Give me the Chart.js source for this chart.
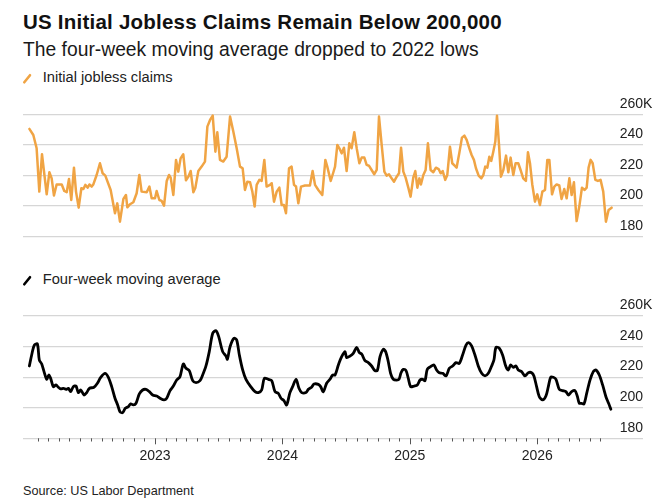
<!DOCTYPE html>
<html>
<head>
<meta charset="utf-8">
<script src="https://cdn.jsdelivr.net/npm/chart.js@4.4.1/dist/chart.umd.min.js"></script>
<style>
  html, body { margin:0; padding:0; background:#fff; }
  body { width:662px; height:503px; position:relative; overflow:hidden; font-family:'Liberation Sans', Arial, sans-serif; }
  .t { position:absolute; white-space:nowrap; line-height:1; }
  canvas { position:absolute; left:0; top:0; }
</style>
</head>
<body>
<div class="t" style="left:23px;top:11.65px;font-size:20.5px;letter-spacing:0.23px;font-weight:bold;color:#111;">US Initial Jobless Claims Remain Below 200,000</div>
<div class="t" style="left:23px;top:40.4px;font-size:19.3px;color:#1a1a1a;">The four-week moving average dropped to 2022 lows</div>
<div class="t" style="left:42.7px;top:69.9px;font-size:14.7px;color:#222;">Initial jobless claims</div>
<div class="t" style="left:42.7px;top:271.9px;font-size:14.7px;color:#222;">Four-week moving average</div>
<div class="t" style="left:23px;top:484.8px;font-size:12.7px;color:#222;">Source: US Labor Department</div>
<svg width="662" height="503" style="position:absolute;left:0;top:0;">
  <line x1="24.3" y1="82.3" x2="30" y2="75.2" stroke="#F0A444" stroke-width="2.6" stroke-linecap="round"/>
  <line x1="24.3" y1="284.3" x2="30" y2="277.2" stroke="#000" stroke-width="2.6" stroke-linecap="round"/>
</svg>
<canvas id="c1" width="662" height="503"></canvas>
<canvas id="c2" width="662" height="503"></canvas>
<script>
// ---- data (x = decimal year, y = thousands) ----
const claimsX = [2022.014,2022.045,2022.071,2022.092,2022.113,2022.150,2022.171,2022.189,2022.207,2022.228,2022.268,2022.288,2022.307,2022.325,2022.343,2022.364,2022.380,2022.401,2022.422,2022.438,2022.453,2022.472,2022.485,2022.503,2022.516,2022.542,2022.568,2022.589,2022.610,2022.652,2022.686,2022.704,2022.725,2022.752,2022.772,2022.783,2022.804,2022.830,2022.856,2022.877,2022.895,2022.935,2022.956,2022.974,2023.000,2023.013,2023.034,2023.052,2023.071,2023.092,2023.110,2023.123,2023.144,2023.165,2023.183,2023.201,2023.222,2023.243,2023.262,2023.280,2023.301,2023.317,2023.340,2023.366,2023.392,2023.411,2023.432,2023.453,2023.474,2023.489,
2023.510,2023.536,2023.562,2023.589,2023.615,2023.641,2023.667,2023.688,2023.706,2023.725,2023.746,2023.764,2023.782,2023.798,2023.819,2023.837,2023.858,2023.876,2023.902,2023.916,2023.934,2023.955,2023.976,2023.994,2024.012,2024.028,2024.052,2024.072,2024.091,2024.107,2024.125,2024.146,2024.177,2024.216,2024.237,2024.256,2024.282,2024.313,2024.337,2024.352,2024.379,2024.400,2024.413,2024.431,2024.447,2024.465,2024.483,2024.504,2024.525,2024.543,2024.564,2024.583,2024.604,2024.622,2024.643,2024.661,2024.679,2024.700,2024.721,2024.740,2024.758,2024.779,2024.800,2024.818,2024.836,2024.857,2024.876,2024.897,2024.915,2024.931,2024.949,2024.967,2024.988,2025.006,2025.027,2025.043,2025.059,2025.075,
2025.087,2025.106,2025.124,2025.142,2025.163,2025.184,2025.205,2025.226,2025.242,2025.258,2025.278,2025.294,2025.315,2025.333,2025.352,2025.367,2025.388,2025.409,2025.428,2025.446,2025.467,2025.485,2025.503,2025.519,2025.540,2025.561,2025.577,2025.592,2025.608,2025.624,2025.639,2025.655,2025.671,2025.684,2025.700,2025.715,2025.734,2025.755,2025.773,2025.791,2025.812,2025.830,2025.851,2025.872,2025.890,2025.911,2025.927,2025.943,2025.961,2025.982,2026.000,2026.021,2026.040,2026.061,2026.079,2026.095,2026.116,2026.134,2026.152,2026.173,2026.191,2026.212,2026.231,2026.252,2026.270,2026.288,2026.309,2026.330,2026.351,2026.372,2026.388,2026.403,2026.419,2026.435,2026.456,2026.476,2026.497,2026.518,2026.539,2026.560,2026.584];
const claimsY = [250.4,246.4,237.7,209.3,233.8,207.5,222,218,206.7,214,214,209.7,208.9,217.6,203.8,225,209.3,198.8,211.5,211,213.7,211.9,214,212.6,214,220.2,227.9,221.3,219.8,210.4,195.1,201.6,189.6,204.5,207.1,199,201,202.3,208.2,220.2,209.3,208.9,212.6,204.9,204.9,209.7,203.8,203.2,200.1,216.3,220.2,218.5,207.1,230.1,222.4,231.1,233.8,216.7,219.1,222.8,208.9,211.9,222.8,225.7,229,251.9,256.3,259.1,235.5,248.2,
230.1,229,232.2,258.5,248.6,237.7,225.7,224.6,210.4,215.8,215.4,209.3,199.5,213.7,217,216.3,230.1,212.6,213.7,214.8,202.7,209.3,211.9,200.5,200.5,195.1,224.6,225.7,213.7,212.6,201.6,212.6,213.3,213.3,222.8,213.7,210.4,207.1,230.1,225.7,216.3,222,225.7,239.9,237.7,234.4,238.1,222.8,241,237.7,248.2,237.7,227.9,231.6,231.6,226.8,226.3,223.5,220.7,223.5,258.5,239.9,222.4,219.8,220.7,218,215.8,219.1,221.3,238.1,222.4,218.5,211.9,206,218.5,222.8,211.9,218,
214,220.2,223.5,241,223.5,222,225,224.1,221.3,222.8,217,220.2,238.8,227.9,226.3,225,234.4,244.7,246,243.2,237.7,233.3,230.1,224.6,219.8,218,220.2,225.7,225,232.2,229.4,235.5,242.1,259.1,239.9,219.1,223.5,232.9,222,231.6,220.2,227.9,227.9,222.8,218,216.3,235.1,227.9,214,202.7,207.5,200.5,209.3,210.4,230.1,230.1,207.5,212.6,214,213.3,204.5,211,204.9,218,207.1,215.4,190,199.5,211.9,210.4,211.9,225,230.1,227.9,217,216.3,217,209.3,189.6,197.3,198.8];

const avgX = [2022.014,2022.032,2022.053,2022.077,2022.092,2022.111,2022.129,2022.150,2022.166,2022.181,2022.202,2022.223,2022.241,2022.260,2022.281,2022.302,2022.320,2022.338,2022.359,2022.380,2022.398,2022.417,2022.443,2022.464,2022.485,2022.521,2022.548,2022.574,2022.608,2022.634,2022.660,2022.686,2022.707,2022.725,2022.746,2022.767,2022.791,2022.809,2022.830,2022.851,2022.877,2022.903,2022.929,2022.956,2022.982,2023.013,2023.039,2023.071,2023.092,2023.118,2023.144,2023.170,2023.196,2023.222,2023.243,2023.269,2023.296,2023.322,2023.353,2023.374,2023.400,2023.426,2023.453,2023.479,2023.500,
2023.531,2023.557,2023.568,2023.589,2023.620,2023.641,2023.662,2023.688,2023.714,2023.751,2023.785,2023.811,2023.837,2023.858,2023.889,2023.916,2023.942,2023.968,2023.989,2024.012,2024.033,2024.059,2024.080,2024.107,2024.130,2024.151,2024.185,2024.203,2024.229,2024.248,2024.282,2024.300,2024.321,2024.347,2024.373,2024.394,2024.413,2024.439,2024.465,2024.491,2024.504,2024.530,2024.556,2024.583,2024.604,2024.622,2024.648,2024.674,2024.700,2024.726,2024.745,2024.766,2024.792,2024.810,2024.831,2024.849,2024.870,2024.897,2024.915,2024.931,2024.949,2024.970,2024.988,2025.006,2025.033,2025.059,
2025.080,2025.101,2025.119,2025.137,2025.163,2025.189,2025.210,2025.231,2025.258,2025.284,2025.310,2025.336,2025.362,2025.388,2025.414,2025.441,2025.462,2025.485,2025.511,2025.537,2025.564,2025.590,2025.616,2025.642,2025.660,2025.676,2025.702,2025.728,2025.754,2025.773,2025.791,2025.812,2025.833,2025.851,2025.877,2025.904,2025.930,2025.956,2025.974,2025.995,2026.016,2026.042,2026.068,2026.087,2026.105,2026.126,2026.147,2026.173,2026.199,2026.225,2026.244,2026.270,2026.296,2026.314,2026.330,2026.348,2026.367,2026.388,2026.414,2026.440,2026.461,2026.487,2026.513,2026.539,2026.560,2026.578];
const avgY = [227.3,234.5,241,241.7,231.2,228.6,223.6,218.6,221.4,219.2,213.8,214.9,213.4,212.3,212.7,212,212.7,210.5,213.8,214.2,209.9,211.6,208.3,209.9,212.7,213.4,216,219.9,222.5,219.9,213.8,206.2,201.8,197.4,196.8,199.6,200.7,202.5,201.8,202.9,209,211.6,212,210.5,208.3,207.7,206.2,205.1,206.2,211.2,214.2,218.1,220.3,228.6,225.8,224.3,217.7,216.4,217.7,221.4,227.3,236.7,248.7,250.4,246.5,
236.7,233.8,231.7,239.9,245.4,244.3,234.5,224.7,218.6,213.8,210.5,209.9,211.6,219.2,218.6,217.7,210.5,209.4,206.2,204.6,201.8,209.9,213.8,218.6,212.7,209.9,209.9,212,213.4,215.5,215.3,213.8,210.5,216,218.6,221.4,221.4,228,233.4,236.7,232.8,233.8,235.6,239.5,236,235.1,230.8,229.5,227.3,224.3,224.3,233.4,238.2,236.7,230.1,222.5,218.6,218.1,218.6,222.9,225.1,224.3,219.2,213.8,214.2,214.9,
218.1,218.6,217.7,225.1,226.9,228,224.7,222.9,222.5,220.8,225.8,227.3,229.5,229,234.5,241,242.6,240.4,234.5,227.3,222.5,220.8,222.5,227.3,231.2,239.5,238.9,234.5,226.9,224.7,228,226.4,227.3,224.7,223.6,220.8,222.9,222.9,220.8,213.8,207.2,205.1,207.7,213.8,219.9,219.9,218.6,212,211.2,210.5,208.3,210.5,211.2,207.7,202.9,202.9,202.5,209.4,218.1,223.6,224.7,221.4,214.9,207.2,202.9,199];

const yTicks = [180, 200, 220, 240, 260];
const yTickLabels = ['180', '200', '220', '240', '260'];
const yTopSuffix = 'K';
const yearTicks = [2023, 2024, 2025, 2026];
const yearLabels = ['2023', '2024', '2025', '2026'];
const firstMonthTick = [2022, 1];   // Feb 2022
const lastMonthTick = [2026, 6];    // Jul 2026

const X_MIN = 2021.964, X_MAX = 2026.830;
const FONT = "'Liberation Sans', Arial, sans-serif";

function decYear(y, m) {
  const a = Date.UTC(y, 0, 1), b = Date.UTC(y + 1, 0, 1);
  return y + (Date.UTC(y, m, 1) - a) / (b - a);
}

const yLabelPlugin = {
  id: 'ylabels',
  afterDraw(chart) {
    const ctx = chart.ctx, ys = chart.scales.y, right = chart.chartArea.right;
    ctx.save();
    ctx.font = '14px ' + FONT;
    ctx.fillStyle = '#222';
    ctx.textBaseline = 'alphabetic';
    yTicks.forEach((v, i) => {
      const py = ys.getPixelForValue(v) - 6.7;
      ctx.textAlign = 'right';
      ctx.fillText(yTickLabels[i], right, py);
      if (i === yTicks.length - 1) {
        ctx.textAlign = 'left';
        ctx.fillText(yTopSuffix, right, py);
      }
    });
    ctx.restore();
  }
};

const xAxisPlugin = {
  id: 'xaxis',
  afterDraw(chart) {
    const ctx = chart.ctx, xs = chart.scales.x, base = chart.scales.y.getPixelForValue(180);
    ctx.save();
    ctx.strokeStyle = '#555';
    ctx.lineWidth = 1;
    let y = firstMonthTick[0], m = firstMonthTick[1];
    while (y < lastMonthTick[0] || (y === lastMonthTick[0] && m <= lastMonthTick[1])) {
      const px = Math.round(xs.getPixelForValue(decYear(y, m))) + 0.5;
      const len = m === 0 ? 6 : 3.2;
      ctx.beginPath();
      ctx.moveTo(px, base);
      ctx.lineTo(px, base + len);
      ctx.stroke();
      m++; if (m > 11) { m = 0; y++; }
    }
    ctx.font = '14px ' + FONT;
    ctx.fillStyle = '#222';
    ctx.textAlign = 'center';
    ctx.textBaseline = 'alphabetic';
    yearTicks.forEach((yr, i) => {
      ctx.fillText(yearLabels[i], xs.getPixelForValue(yr), base + 21.4);
    });
    ctx.restore();
  }
};

function makeChart(id, xs, ys, color, width, tension, padTop, padBottom, extraPlugins) {
  const pts = xs.map((x, i) => ({ x: x, y: ys[i] }));
  return new Chart(document.getElementById(id), {
    type: 'line',
    data: { datasets: [{ data: pts, borderColor: color, borderWidth: width, pointRadius: 0, tension: tension, fill: false, clip: false, borderJoinStyle: 'round', borderCapStyle: 'round' }] },
    options: {
      responsive: false,
      animation: false,
      layout: { padding: { left: 23, right: 19, top: padTop, bottom: padBottom } },
      plugins: { legend: { display: false }, tooltip: { enabled: false } },
      scales: {
        x: { type: 'linear', min: X_MIN, max: X_MAX, display: false },
        y: {
          type: 'linear', min: 180, max: 260, position: 'right',
          afterBuildTicks: (s) => { s.ticks = yTicks.map(v => ({ value: v })); },
          ticks: { display: false },
          grid: { color: '#d6d6d6', lineWidth: 1.2, drawTicks: false },
          border: { display: false }
        }
      }
    },
    plugins: [yLabelPlugin].concat(extraPlugins)
  });
}

makeChart('c1', claimsX, claimsY, '#F0A444', 2.5, 0, 114.3, 503 - 236.3, []);
makeChart('c2', avgX, avgY, '#000000', 2.8, 0.3, 316, 503 - 438.3, [xAxisPlugin]);
</script>
</body>
</html>
